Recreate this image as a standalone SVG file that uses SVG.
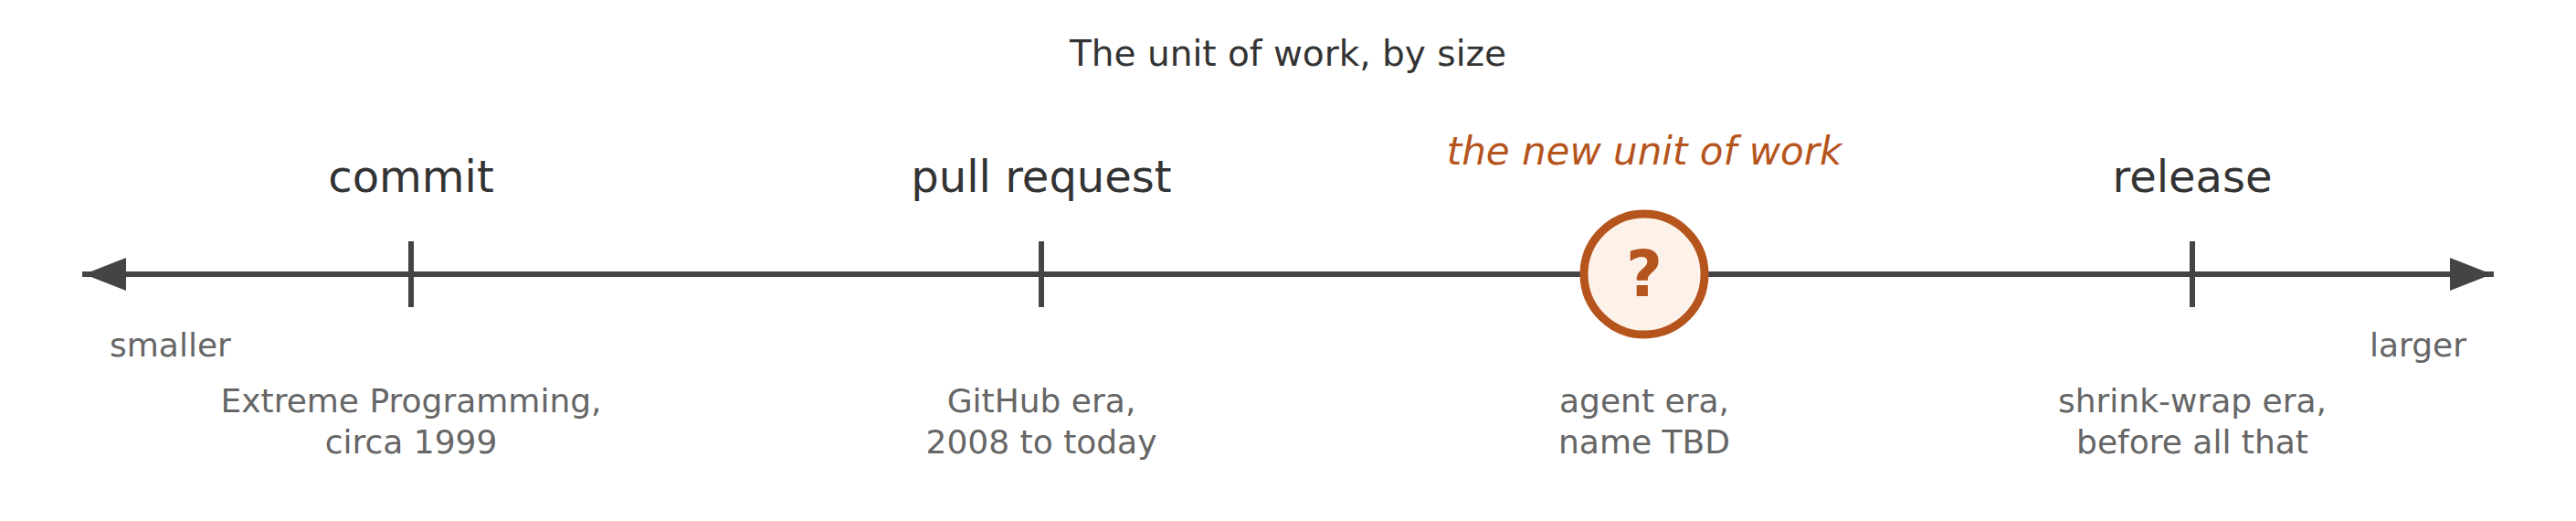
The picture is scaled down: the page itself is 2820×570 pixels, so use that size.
<svg xmlns="http://www.w3.org/2000/svg" width="2820" height="570" viewBox="0 0 2820 570">
  <style>
    text { font-family: "DejaVu Sans", "Liberation Sans", sans-serif; }
    .title { font-size: 39px; fill: #333333; text-anchor: middle; }
    .label { font-size: 48px; fill: #333333; text-anchor: middle; }
    .sub { font-size: 36px; fill: #666666; text-anchor: middle; }
    .end { font-size: 36px; fill: #666666; }
    .axis { stroke: #444444; stroke-width: 6; fill: none; }
    .tick { stroke: #444444; stroke-width: 6; }
    .accent { fill: #B5541C; }
  </style>
  <rect width="2820" height="570" fill="#ffffff"/>
  <text class="title" x="1410" y="72">The unit of work, by size</text>

  <g id="connectors">
    <line class="axis" x1="90" y1="300" x2="2730" y2="300"/>
    <polygon fill="#444444" points="92,300 138,282 138,318"/>
    <polygon fill="#444444" points="2728,300 2682,282 2682,318"/>
  </g>

  <g id="end-smaller">
    <text class="end" x="120" y="390">smaller</text>
  </g>
  <g id="end-larger">
    <text class="end" x="2700" y="390" text-anchor="end">larger</text>
  </g>

  <g id="node-commit">
    <line class="tick" x1="450" y1="264" x2="450" y2="336"/>
    <text class="label" x="450" y="210">commit</text>
    <text class="sub" x="450" y="451">Extreme Programming,</text>
    <text class="sub" x="450" y="496">circa 1999</text>
  </g>

  <g id="node-pull-request">
    <line class="tick" x1="1140" y1="264" x2="1140" y2="336"/>
    <text class="label" x="1140" y="210">pull request</text>
    <text class="sub" x="1140" y="451">GitHub era,</text>
    <text class="sub" x="1140" y="496">2008 to today</text>
  </g>

  <g id="node-new-unit">
    <circle cx="1800" cy="300" r="66" fill="#FDF2E9" stroke="#B5541C" stroke-width="9"/>
    <text class="accent" x="1800" y="324" font-size="69" font-weight="bold" text-anchor="middle">?</text>
    <text class="accent" x="1800" y="180" font-size="42" font-style="italic" text-anchor="middle">the new unit of work</text>
    <text class="sub" x="1800" y="451">agent era,</text>
    <text class="sub" x="1800" y="496">name TBD</text>
  </g>

  <g id="node-release">
    <line class="tick" x1="2400" y1="264" x2="2400" y2="336"/>
    <text class="label" x="2400" y="210">release</text>
    <text class="sub" x="2400" y="451">shrink-wrap era,</text>
    <text class="sub" x="2400" y="496">before all that</text>
  </g>
</svg>
